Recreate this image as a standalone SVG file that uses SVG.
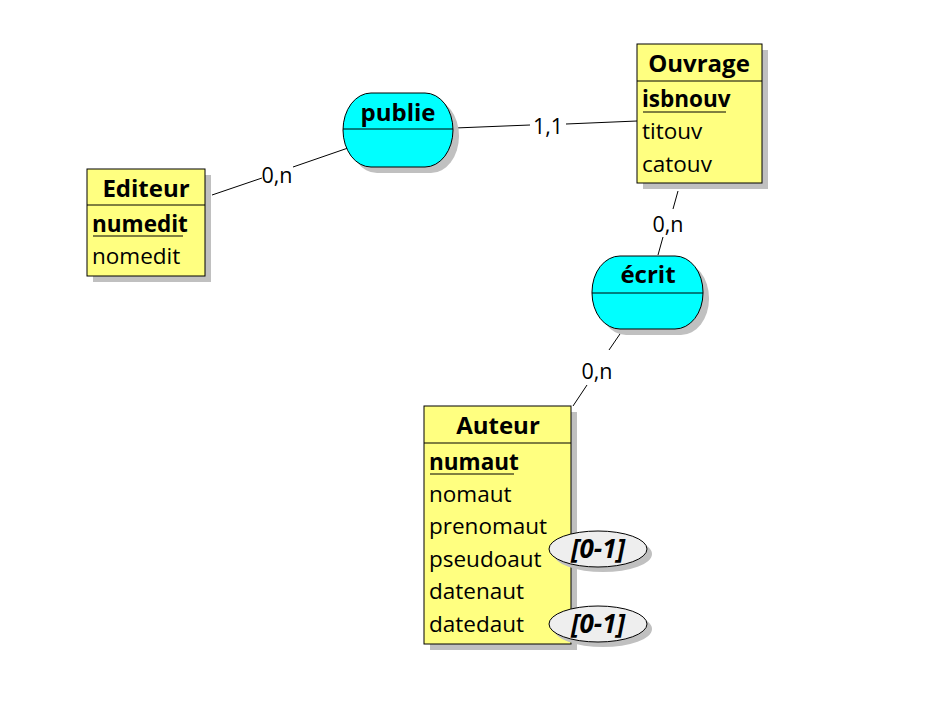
<svg xmlns="http://www.w3.org/2000/svg" width="935" height="708" viewBox="0 0 935 708">
<style>
.box{fill:#ffff80;stroke:#000;stroke-width:1}
.shadow{fill:#c0c0c0}
.rel{fill:#00ffff;stroke:#000;stroke-width:1}
.line{stroke:#000;stroke-width:1;fill:none}
.title{font-family:"Open Sans","Liberation Sans",sans-serif;font-weight:bold;font-size:24px;text-anchor:middle;fill:#000}
.attr{font-family:"Open Sans","Liberation Sans",sans-serif;font-size:22.5px;fill:#000}
.key{font-weight:bold}
.card{font-family:"Open Sans","Liberation Sans",sans-serif;font-size:21.5px;text-anchor:middle;fill:#000}
.opt{fill:#eeeeee;stroke:#000;stroke-width:1}
.opttxt{font-family:"Open Sans","Liberation Sans",sans-serif;font-size:26px;font-weight:bold;font-style:italic;text-anchor:middle;fill:#000}
</style>
<rect width="935" height="708" fill="#fff"/>
<g id="connectors">
<line class="line" x1="212" y1="195" x2="262" y2="178"/>
<line class="line" x1="293" y1="167" x2="348" y2="148"/>
<text class="card" x="277" y="183">0,n</text>
<line class="line" x1="455" y1="128" x2="530" y2="125"/>
<line class="line" x1="566" y1="124" x2="637" y2="121"/>
<text class="card" x="548" y="134">1,1</text>
<line class="line" x1="678" y1="191" x2="673" y2="209"/>
<line class="line" x1="663" y1="237" x2="658" y2="255"/>
<text class="card" x="668" y="232">0,n</text>
<line class="line" x1="622" y1="331" x2="609" y2="350"/>
<line class="line" x1="587" y1="385" x2="573" y2="406"/>
<text class="card" x="597" y="379">0,n</text>
</g>
<g id="Editeur">
<rect class="shadow" x="93" y="175" width="118" height="107"/>
<rect class="box" x="87" y="169" width="118" height="107"/>
<line class="line" x1="87" y1="205" x2="205" y2="205"/>
<text class="title" x="146" y="197">Editeur</text>
<text class="attr key" x="92" y="232">numedit</text>
<line class="line" x1="93" y1="236" x2="183" y2="236"/>
<text class="attr" x="92" y="264">nomedit</text>
</g>
<g id="Ouvrage">
<rect class="shadow" x="643" y="50" width="125" height="139"/>
<rect class="box" x="637" y="44" width="125" height="139"/>
<line class="line" x1="637" y1="81" x2="762" y2="81"/>
<text class="title" x="699" y="72">Ouvrage</text>
<text class="attr key" x="642" y="107">isbnouv</text>
<line class="line" x1="643" y1="112" x2="726" y2="112"/>
<text class="attr" x="642" y="139">titouv</text>
<text class="attr" x="642" y="172">catouv</text>
</g>
<g id="publie">
<rect class="shadow" x="349" y="99" width="110" height="74" rx="28" ry="37"/>
<rect class="rel" x="343" y="93" width="110" height="74" rx="28" ry="37"/>
<line class="line" x1="343" y1="129" x2="453" y2="129"/>
<text class="title" x="398" y="121">publie</text>
</g>
<g id="ecrit">
<rect class="shadow" x="598" y="262" width="111" height="73" rx="28" ry="36"/>
<rect class="rel" x="592" y="256" width="111" height="73" rx="28" ry="36"/>
<line class="line" x1="592" y1="293" x2="703" y2="293"/>
<text class="title" x="648" y="283">écrit</text>
</g>
<g id="Auteur">
<rect class="shadow" x="430" y="412" width="147" height="238"/>
<rect class="box" x="424" y="406" width="147" height="238"/>
<line class="line" x1="424" y1="443" x2="571" y2="443"/>
<text class="title" x="498" y="434">Auteur</text>
<text class="attr key" x="429" y="470">numaut</text>
<line class="line" x1="430" y1="474" x2="514" y2="474"/>
<text class="attr" x="429" y="502">nomaut</text>
<text class="attr" x="429" y="534">prenomaut</text>
<text class="attr" x="429" y="567">pseudoaut</text>
<text class="attr" x="429" y="599">datenaut</text>
<text class="attr" x="429" y="632">datedaut</text>
</g>
<g id="opt1">
<ellipse class="shadow" cx="603" cy="554" rx="49" ry="18"/>
<ellipse class="opt" cx="598" cy="549" rx="49" ry="18"/>
<text class="opttxt" x="598" y="558">[0-1]</text>
</g>
<g id="opt2">
<ellipse class="shadow" cx="603" cy="629" rx="49" ry="18"/>
<ellipse class="opt" cx="598" cy="624" rx="49" ry="18"/>
<text class="opttxt" x="598" y="633">[0-1]</text>
</g>
</svg>
